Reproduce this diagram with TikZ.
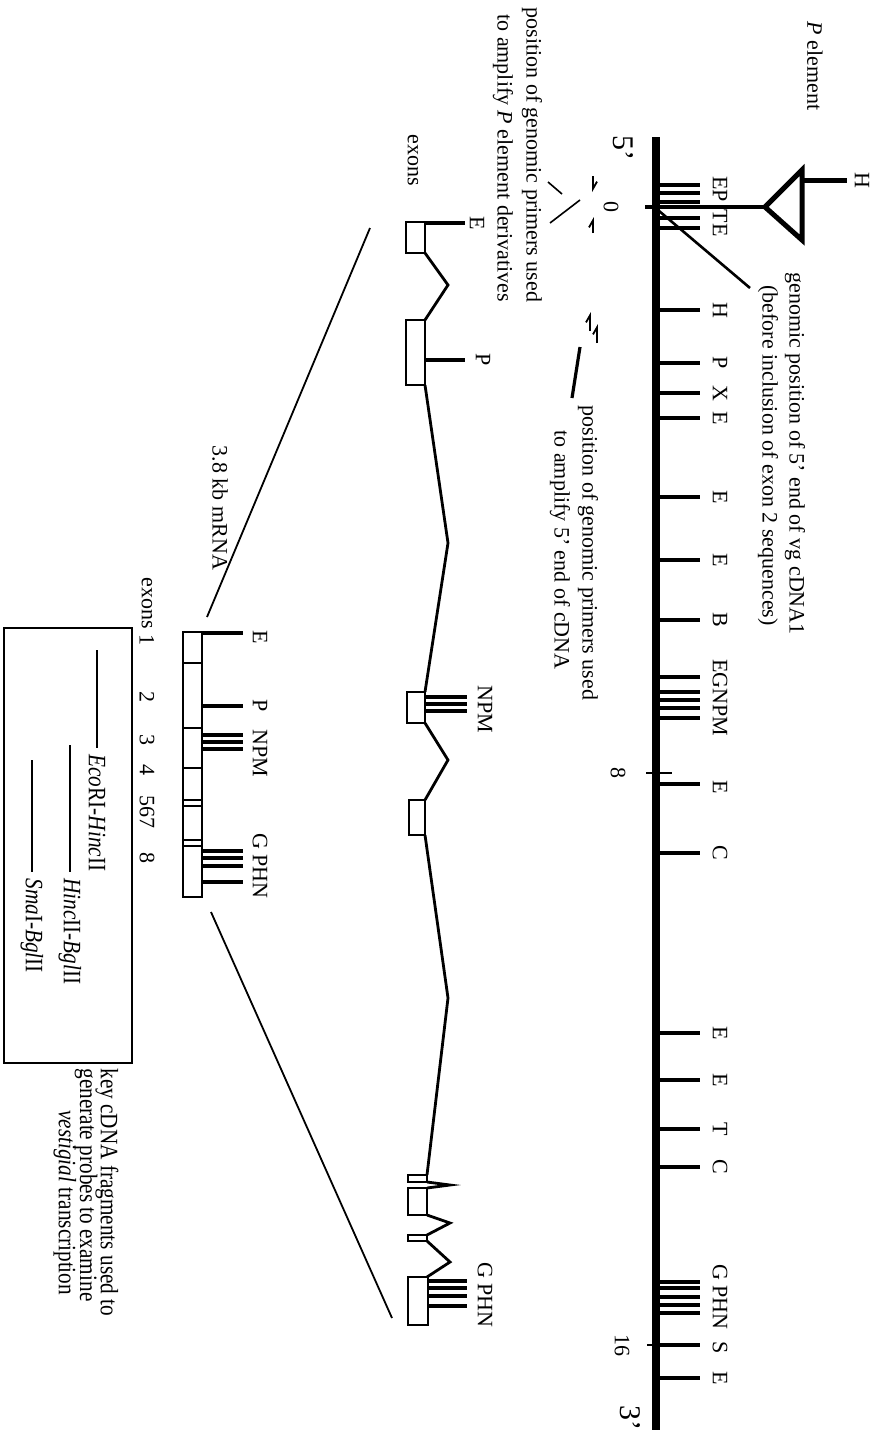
\documentclass[tikz,border=0pt]{standalone}
\usepackage{fontspec}
\setmainfont{Liberation Serif}
\newfontfamily\condfont[FakeStretch=0.85]{Liberation Serif}
\usetikzlibrary{arrows.meta}
\begin{document}
\begin{tikzpicture}[x=0.5pt,y=-0.5pt,
  lbl/.style={rotate=-90,inner sep=0pt,font=\fontsize{11}{13}\selectfont},
  lblw/.style={lbl,anchor=west},
  keyw/.style={rotate=-90,inner sep=0pt,anchor=west,font=\condfont\fontsize{12.5}{14}\selectfont},
  big/.style={rotate=-90,inner sep=0pt,font=\fontsize{15}{17}\selectfont},
  gtick/.style={line width=2.2pt},
  mtick/.style={line width=2pt},
  exonbox/.style={line width=1.4pt,fill=white},
  intron/.style={line width=1.4pt,line join=miter},
  conn/.style={line width=0.9pt},
  harp/.style={line width=0.9pt,-{Straight Barb[harpoon,length=3.5pt,width=4pt]}},
]
\useasboundingbox (0,0) rectangle (879,1435);

% ---------------- genomic map ----------------
\draw[line width=4pt] (656,137) -- (656,1430);
\foreach \y in {185,193,202,218,228,310,363,393,418,497,560,620,677,692,700,708,718,784,853,1033,1080,1129,1167,1282,1288,1297,1305,1313,1345,1378}
  \draw[gtick] (656,\y) -- (700,\y);
% scale ticks
\draw[line width=1.6pt] (645,207) -- (765,207);
\draw[line width=1.4pt] (646,773) -- (672,773);
\draw[line width=1.4pt] (647,1345) -- (662,1345);
% P element
\draw[line width=2.5pt,line join=miter] (765,207) -- (802,170) -- (802,240) -- cycle;
\draw[line width=2.5pt] (802,180) -- (847,180);
\node[lbl] (pH) at (862,180) {H};
\node[lbl] (pel) at (815,66) {\textit{P} element};
% 5' end pointer
\coordinate (g5a) at (652,205);
\coordinate (g5b) at (750,288);
\draw[line width=1.3pt] (g5a) -- (g5b);
\node[lblw] (gp1) at (795,272) {genomic position of 5' end of vg cDNA1};
\node[lblw] (gp2) at (768,285) {(before inclusion of exon 2 sequences)};
% ends and scale
\node[big] (five) at (623,148) {5'};
\node[big] (three) at (630,1418) {3'};
\node[lbl] (s0) at (611,207) {0};
\node[lbl] (s8) at (618,773) {8};
\node[lbl] (s16) at (622,1345) {16};
% site labels
\node[lbl] (l1) at (720,189) {EP};
\node[lbl] (l2) at (720,223) {TE};
\node[lbl] (l3) at (720,310) {H};
\node[lbl] (l4) at (720,363) {P};
\node[lbl] (l5) at (720,393) {X};
\node[lbl] (l6) at (720,418) {E};
\node[lbl] (l7) at (720,497) {E};
\node[lbl] (l8) at (720,560) {E};
\node[lbl] (l9) at (720,620) {B};
\node[lbl] (l10) at (720,698) {EGNPM};
\node[lbl] (l11) at (720,787) {E};
\node[lbl] (l12) at (720,853) {C};
\node[lbl] (l13) at (720,1033) {E};
\node[lbl] (l14) at (720,1080) {E};
\node[lbl] (l15) at (720,1129) {T};
\node[lbl] (l16) at (720,1167) {C};
\node[lbl] (l17) at (720,1297) {G PHN};
\node[lbl] (l18) at (720,1348) {S};
\node[lbl] (l19) at (720,1378) {E};

% ---------------- primers ----------------
\draw[harp] (593,176) -- (593,192);
\draw[harp] (593,233) -- (593,217);
\draw[line width=0.8pt] (548,182) -- (562,194);
\draw[line width=0.8pt] (550,223) -- (580,200);
\node[lbl] (pr1) at (532,155) {position of genomic primers used};
\node[lbl] (pr2) at (503,158) {to amplify \textit{P} element derivatives};

\draw[harp] (590,331) -- (590,312);
\draw[harp] (597,343) -- (597,324);
\draw[line width=1.6pt] (580,347) -- (572,398);
\node[lbl] (pc1) at (588,553) {position of genomic primers used};
\node[lbl] (pc2) at (560,550) {to amplify 5' end of cDNA};

% ---------------- gene structure ----------------
\node[lbl] (exl) at (413,160) {exons};
\draw[intron] (425,253) -- (448,285) -- (425,320);
\draw[intron] (425,385) -- (448,543) -- (425,692);
\draw[intron] (425,723) -- (448,760) -- (425,800);
\draw[intron] (425,835) -- (448,998) -- (427,1175);
\draw[intron] (427,1182) -- (450,1185) -- (427,1188);
\draw[intron] (427,1215) -- (450,1223) -- (427,1235);
\draw[intron] (427,1241) -- (450,1262) -- (427,1277);
\draw[exonbox] (406,222) rectangle (425,253);
\draw[exonbox] (406,320) rectangle (425,385);
\draw[exonbox] (407,692) rectangle (425,723);
\draw[exonbox] (409,800) rectangle (425,835);
\draw[exonbox] (408,1175) rectangle (427,1182);
\draw[exonbox] (408,1188) rectangle (427,1215);
\draw[exonbox] (408,1235) rectangle (427,1241);
\draw[exonbox] (408,1277) rectangle (428,1325);
\draw[mtick] (425,223) -- (465,223);
\draw[mtick] (425,360) -- (465,360);
\foreach \y in {697,704,711} \draw[mtick] (425,\y) -- (467,\y);
\foreach \y in {1281,1288,1296,1306} \draw[mtick] (428,\y) -- (467,\y);
\node[lbl] (m1) at (477,223) {E};
\node[lbl] (m2) at (483,360) {P};
\node[lbl] (m3) at (485,709) {NPM};
\node[lbl] (m4) at (485,1295) {G PHN};

% connectors to mRNA
\coordinate (c1a) at (370,228);
\coordinate (c1b) at (207,617);
\coordinate (c2a) at (211,912);
\coordinate (c2b) at (392,1318);
\draw[conn] (c1a) -- (c1b);
\draw[conn] (c2a) -- (c2b);

% ---------------- mRNA ----------------
\node[lbl] (mrna) at (220,508) {3.8 kb mRNA};
\draw[exonbox] (183,632) rectangle (202,897);
\foreach \y in {663,728,768,800,806,840,846} \draw[line width=1.2pt] (183,\y) -- (202,\y);
\foreach \y in {633,706,735,742,749,851,858,866,882} \draw[mtick] (202,\y) -- (243,\y);
\node[lbl] (r1) at (260,637) {E};
\node[lbl] (r2) at (260,706) {P};
\node[lbl] (r3) at (260,753) {NPM};
\node[lbl] (r4) at (260,866) {G PHN};
\node[lbl] (ex0) at (147,603) {exons};
\node[lbl] (ex1) at (147,640) {1};
\node[lbl] (ex2) at (147,697) {2};
\node[lbl] (ex3) at (147,740) {3};
\node[lbl] (ex4) at (147,770) {4};
\node[lbl] (ex5) at (147,812) {567};
\node[lbl] (ex8) at (147,858) {8};

% ---------------- key ----------------
\draw[line width=0.8pt] (4,628) rectangle (132,1063);
\draw[line width=0.7pt] (97,650) -- (97,748);
\node[keyw] (k1) at (97,754) {\textit{Eco}RI-\textit{Hinc}II};
\draw[line width=0.7pt] (70,745) -- (70,872);
\node[keyw] (k2) at (70,878) {\textit{Hinc}II-\textit{Bgl}II};
\draw[line width=0.7pt] (32,760) -- (32,872);
\node[keyw] (k3) at (32,878) {\textit{Sma}I-\textit{Bgl}II};
\node[keyw] (kt1) at (107,1068) {key cDNA fragments used to};
\node[keyw] (kt2) at (86,1068) {generate probes to examine};
\node[keyw] (kt3) at (65,1110) {\textit{vestigial} transcription};
\end{tikzpicture}
\end{document}
